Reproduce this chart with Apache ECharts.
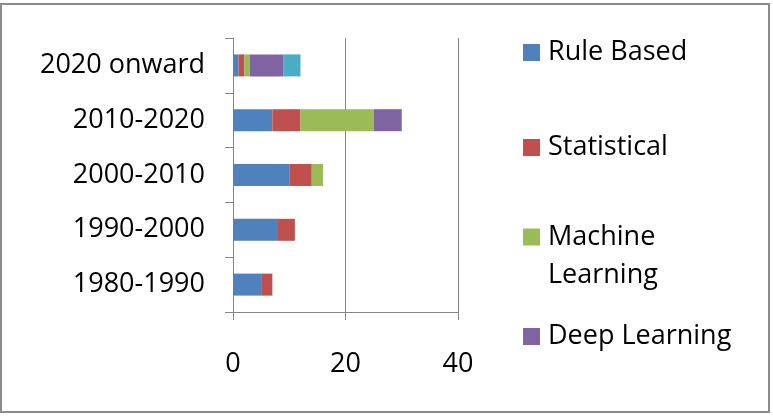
<!DOCTYPE html>
<html>
<head>
<meta charset="utf-8">
<script src="https://cdn.jsdelivr.net/npm/echarts@6/dist/echarts.min.js"></script>
<style>
html,body{margin:0;padding:0;background:#fff;}
#chart{width:773px;height:417px;}
</style>
</head>
<body>
<div id="chart"></div>
<script>
var categories = ['1980-1990', '1990-2000', '2000-2010', '2010-2020', '2020 onward'];
var ruleBased = [5, 8, 10, 7, 1];
var statistical = [2, 3, 4, 5, 1];
var machineLearning = [0, 0, 2, 13, 1];
var deepLearning = [0, 0, 0, 5, 6];
var generativeAI = [0, 0, 0, 0, 3];
var xTicks = [0, 20, 40];

var FONT = 'Open Sans';
var FS = 27;
var AXIS = '#868686';
var chart = echarts.init(document.getElementById('chart'), null, {renderer: 'canvas'});

function legendBox(name, top, lh, fmt) {
  var o = {
    data: [{name: name, icon: 'rect'}],
    orient: 'vertical',
    left: 523,
    top: top,
    padding: 0,
    itemGap: 0,
    itemWidth: 17,
    itemHeight: 17,
    selectedMode: false,
    textStyle: {fontFamily: FONT, fontSize: FS, color: '#000', lineHeight: lh, padding: [0, 0, 0, 3]}
  };
  if (fmt) o.formatter = fmt;
  return o;
}

var option = {
  animation: false,
  backgroundColor: '#fff',
  color: ['#4F81BD', '#C0504D', '#9BBB59', '#8064A2', '#4BACC6'],
  graphic: [{
    type: 'rect', silent: true,
    shape: {x: 1, y: 4, width: 768, height: 408},
    style: {fill: 'none', stroke: '#8c8c8c', lineWidth: 2}
  }],
  grid: {left: 233, right: 315, top: 38, bottom: 105, containLabel: false},
  legend: [
    legendBox('Rule Based', 39, 17),
    legendBox('Statistical', 134, 17),
    legendBox('Machine Learning', 180, 38, function () { return ' \nMachine\nLearning'; }),
    legendBox('Deep Learning', 323, 17)
  ],
  xAxis: {
    type: 'value',
    min: xTicks[0],
    max: xTicks[xTicks.length - 1],
    interval: xTicks[1] - xTicks[0],
    axisLine: {show: true, lineStyle: {color: AXIS, width: 1}},
    axisTick: {show: true, length: 8, lineStyle: {color: AXIS, width: 1}},
    splitLine: {show: true, lineStyle: {color: AXIS, width: 1}},
    axisLabel: {fontFamily: FONT, fontSize: FS, color: '#000', margin: 39}
  },
  yAxis: {
    type: 'category',
    data: categories,
    axisLine: {show: true, lineStyle: {color: AXIS, width: 1}},
    axisTick: {show: true, length: 8, lineStyle: {color: AXIS, width: 1}},
    axisLabel: {fontFamily: FONT, fontSize: FS, color: '#000', margin: 28}
  },
  series: [
    {name: 'Rule Based', type: 'bar', stack: 'a', barWidth: 22, data: ruleBased},
    {name: 'Statistical', type: 'bar', stack: 'a', barWidth: 22, data: statistical},
    {name: 'Machine Learning', type: 'bar', stack: 'a', barWidth: 22, data: machineLearning},
    {name: 'Deep Learning', type: 'bar', stack: 'a', barWidth: 22, data: deepLearning},
    {name: 'Generative AI', type: 'bar', stack: 'a', barWidth: 22, data: generativeAI}
  ]
};
chart.setOption(option);
</script>
</body>
</html>
